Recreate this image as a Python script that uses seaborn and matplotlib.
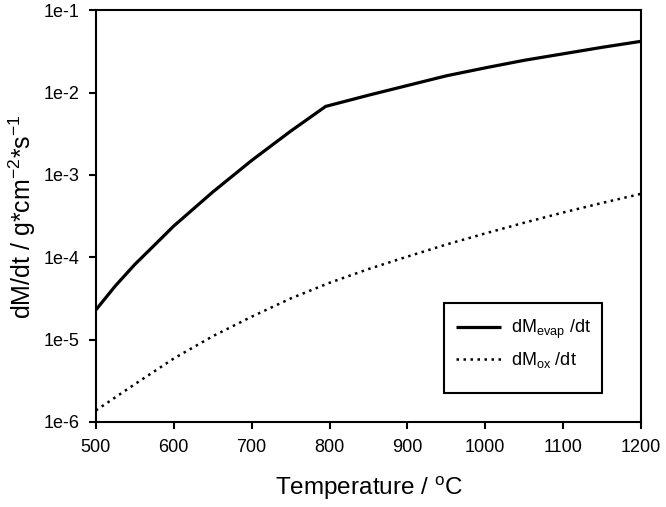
import numpy as np
import pandas as pd
import matplotlib
matplotlib.use('Agg')
import matplotlib.pyplot as plt
import seaborn as sns
from matplotlib.ticker import FuncFormatter, NullLocator, FixedLocator
from matplotlib.patches import Rectangle

# Données
temp_evap = [500, 525, 550, 575, 600, 650, 700, 750, 795, 850, 900, 950, 1000, 1050, 1100,
             1150, 1200]
rate_evap = [2.3e-5, 4.5e-5, 8.2e-5, 1.4e-4, 2.4e-4, 6.2e-4, 1.5e-3, 3.4e-3, 6.8e-3,
             9.3e-3, 1.22e-2, 1.6e-2, 2.0e-2, 2.47e-2, 2.96e-2, 3.55e-2, 4.2e-2]

temp_ox = [500, 550, 600, 650, 700, 750, 800, 850, 900, 950, 1000, 1050, 1100, 1150, 1200]
rate_ox = [1.38e-6, 2.88e-6, 5.9e-6, 1.1e-5, 1.9e-5, 3.16e-5, 4.9e-5, 7.2e-5, 1.02e-4,
           1.43e-4, 1.95e-4, 2.63e-4, 3.5e-4, 4.57e-4, 5.9e-4]

x_ticks = [500, 600, 700, 800, 900, 1000, 1100, 1200]
y_ticks = [1e-6, 1e-5, 1e-4, 1e-3, 1e-2, 1e-1]

label_evap = 'dM$_{evap}$ /dt'
label_ox = 'dM$_{ox}$ /dt'

df_evap = pd.DataFrame({'T': temp_evap, 'rate': rate_evap})
df_ox = pd.DataFrame({'T': temp_ox, 'rate': rate_ox})

# Configuration
sns.set_style('ticks')
plt.rcParams['font.family'] = ['Liberation Sans', 'DejaVu Sans']
plt.rcParams['mathtext.default'] = 'regular'
plt.rcParams['text.color'] = 'black'
plt.rcParams['axes.labelcolor'] = 'black'

fig = plt.figure(figsize=(6.66, 5.07), dpi=100)
ax = fig.add_axes([0.144, 0.1677, 0.8185, 0.812])

sns.lineplot(data=df_evap, x='T', y='rate', ax=ax, color='black', linewidth=2.3,
             label=label_evap, solid_capstyle='butt', solid_joinstyle='round')
sns.lineplot(data=df_ox, x='T', y='rate', ax=ax, color='black', linewidth=1.8,
             linestyle=(0, (1, 1.8)), label=label_ox, dash_capstyle='butt')

ax.set_yscale('log')
ax.set_xlim(500, 1200)
ax.set_ylim(1e-6, 1e-1)
ax.xaxis.set_major_locator(FixedLocator(x_ticks))
ax.yaxis.set_major_locator(FixedLocator(y_ticks))
ax.yaxis.set_minor_locator(NullLocator())
ax.yaxis.set_major_formatter(FuncFormatter(lambda v, _: f'1e{int(round(np.log10(v)))}'))

for sp in ax.spines.values():
    sp.set_linewidth(1.5)
    sp.set_color('black')
ax.tick_params(axis='both', which='major', direction='out', length=5, width=1.5,
               labelsize=13, colors='black', pad=7)

ax.set_xlabel('Temperature / $^{o}$C', fontsize=17.5, labelpad=14)
ax.set_ylabel('dM/dt / g*cm$^{-2}$*s$^{-1}$', fontsize=18, labelpad=4)

# Légende avec cadre
ax.add_patch(Rectangle((0.639, 0.0705), 0.289, 0.2185, transform=ax.transAxes,
                       facecolor='white', edgecolor='black', linewidth=1.5, zorder=5))
leg = ax.legend(loc='upper left', bbox_to_anchor=(0.630, 0.292), frameon=False,
                fontsize=13, handlelength=2.5, handletextpad=0.55, labelspacing=0.5)
leg.set_zorder(6)

plt.savefig('out.png', dpi=100)
plt.close()
